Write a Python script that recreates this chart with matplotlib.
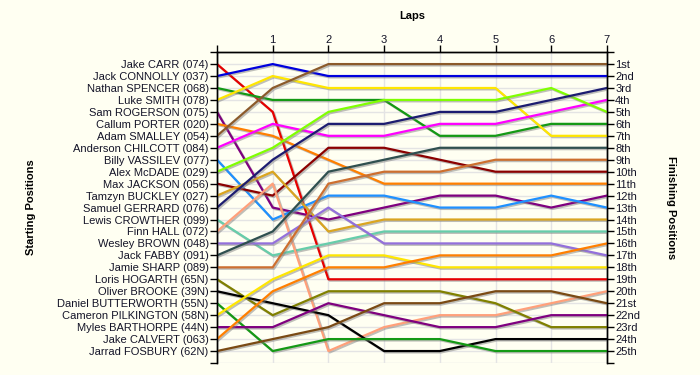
import matplotlib
matplotlib.use("Agg")
import matplotlib.pyplot as plt
import matplotlib.patheffects as pe
import numpy as np

plt.rcParams["font.family"] = ["Liberation Sans", "DejaVu Sans"]

# riders in starting order
riders = ["Jake CARR (074)", "Jack CONNOLLY (037)", "Nathan SPENCER (068)",
          "Luke SMITH (078)", "Sam ROGERSON (075)", "Callum PORTER (020)",
          "Adam SMALLEY (054)", "Anderson CHILCOTT (084)", "Billy VASSILEV (077)",
          "Alex McDADE (029)", "Max JACKSON (056)", "Tamzyn BUCKLEY (027)",
          "Samuel GERRARD (076)", "Lewis CROWTHER (099)", "Finn HALL (072)",
          "Wesley BROWN (048)", "Jack FABBY (091)", "Jamie SHARP (089)",
          "Loris HOGARTH (65N)", "Oliver BROOKE (39N)", "Daniel BUTTERWORTH (55N)",
          "Cameron PILKINGTON (58N)", "Myles BARTHORPE (44N)", "Jake CALVERT (063)",
          "Jarrad FOSBURY (62N)"]

finish_labels = ["1st", "2nd", "3rd", "4th", "5th", "6th", "7th", "8th", "9th",
                 "10th", "11th", "12th", "13th", "14th", "15th", "16th", "17th",
                 "18th", "19th", "20th", "21st", "22nd", "23rd", "24th", "25th"]

laps = [0, 1, 2, 3, 4, 5, 6, 7]

# position of each rider (same order as riders) after every lap
lap0 = [1, 2, 3, 4, 5, 6, 7, 8, 9, 10, 11, 12, 13, 14, 15, 16, 17, 18, 19, 20, 21, 22, 23, 24, 25]
lap1 = [5, 1, 4, 2, 13, 7, 3, 6, 14, 8, 12, 10, 9, 17, 11, 16, 15, 18, 22, 21, 25, 19, 23, 20, 24]
lap2 = [19, 2, 4, 3, 14, 9, 1, 7, 12, 5, 8, 15, 6, 16, 25, 13, 10, 11, 20, 22, 24, 17, 21, 18, 23]
lap3 = [19, 2, 4, 3, 13, 11, 1, 7, 12, 4, 8, 14, 6, 15, 23, 16, 9, 10, 20, 25, 24, 17, 22, 18, 21]
lap4 = [19, 2, 7, 3, 12, 11, 1, 6, 13, 4, 9, 14, 5, 15, 22, 16, 8, 10, 20, 25, 24, 18, 23, 17, 21]
lap5 = [19, 2, 7, 3, 12, 11, 1, 6, 13, 4, 10, 14, 5, 15, 22, 16, 8, 9, 21, 24, 25, 18, 23, 17, 20]
lap6 = [19, 2, 6, 7, 13, 11, 1, 5, 12, 3, 10, 14, 4, 15, 21, 16, 8, 9, 23, 24, 25, 18, 22, 17, 20]
lap7 = [19, 2, 6, 7, 12, 11, 1, 4, 13, 5, 10, 14, 3, 15, 20, 17, 8, 9, 23, 24, 25, 18, 22, 16, 21]

colors = ["#e60000", "#0000dd", "#149914", "#ffe600", "#7f007f", "#ff7f00",
          "#8b5a2b", "#ff00ff", "#1e90ff", "#80ff00", "#8b0000", "#daa520",
          "#1c1c70", "#66cdaa", "#ffa07a", "#9370db", "#2f4f4f", "#cd6f2f",
          "#808000", "#000000", "#149914", "#ffe600", "#7f007f", "#ff7f00",
          "#7a4a14"]

pos = np.array([lap0, lap1, lap2, lap3, lap4, lap5, lap6, lap7])

bg = "#fffff2"
fig = plt.figure(figsize=(7, 3.75), dpi=100, facecolor=bg)
ax = fig.add_axes([0.31, 0.032, 0.557, 0.829], facecolor=bg)

for i in range(len(riders)):
    ax.plot(laps, pos[:, i], color=colors[i], lw=1.6, zorder=3,
            path_effects=[pe.SimpleLineShadow(offset=(1, -1), shadow_color="gray", alpha=0.5),
                          pe.Normal()])

ax.set_xlim(0, 7)
ax.set_ylim(26, 0)
ax.grid(True, color="#e4e4e4", lw=1, zorder=0)

# top axis = laps
ax.xaxis.tick_top()
ax.set_xticks(laps)
ax.set_xticklabels([""] + [str(l) for l in laps[1:]])
ax.xaxis.set_label_position("top")
ax.set_xlabel("Laps", fontweight="bold", fontsize=8, labelpad=12)

# left axis = starting positions
ax.set_yticks(range(0, 27))
ax.set_yticklabels([""] + riders + [""])
ax.set_ylabel("Starting Positions", fontweight="bold", fontsize=8)
ax.yaxis.set_label_coords(-0.465, 0.5)

ax2 = ax.twinx()
ax2.set_ylim(26, 0)
ax2.set_yticks(range(0, 27))
ax2.set_yticklabels([""] + finish_labels + [""])
ax2.set_ylabel("Finishing Positions", fontweight="bold", fontsize=8, rotation=270)
ax2.yaxis.set_label_coords(1.178, 0.5)

for a in (ax, ax2):
    a.tick_params(direction="out", length=5, width=1, labelsize=8,
                  colors="black", labelcolor="#141428", pad=1)
    a.spines["bottom"].set_visible(False)
    for s in ("top", "left", "right"):
        a.spines[s].set_linewidth(1)
ax.tick_params(axis="x", pad=0)

fig.savefig("out.png", dpi=100, facecolor=bg)
